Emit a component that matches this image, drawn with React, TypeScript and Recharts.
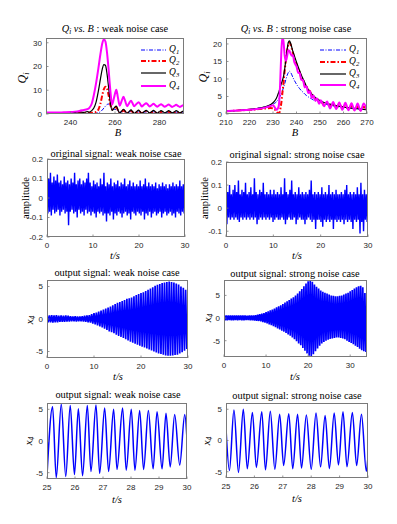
import React from 'react';
import { LineChart, Line, XAxis, YAxis } from 'recharts';

// Q_i vs B, weak noise: [B, Q]
const weakQ1: [number, number][] = [
  [229, 0.05], [237, 0.05], [242, 0.1], [246, 0.15], [249.5, 0.2], [251.5, 0.3], [252.5, 0.5], [253.5, 1.0],
  [254.3, 1.7], [255, 2.5], [255.7, 3.3], [256.4, 4.0], [257.1, 4.2], [257.8, 3.6], [258.7, 2.6], [259.6, 2.0],
  [260.6, 1.8], [261.3, 1.3], [262.1, 0.8], [263, 0.9], [263.8, 1.1], [264.6, 0.9], [265.4, 0.6], [266.3, 0.8],
  [267.2, 1.0], [268.6, 0.6], [270.6, 0.9], [272, 0.6], [274, 0.9], [275.5, 0.6], [277.3, 0.9], [278.9, 0.6],
  [280.7, 0.8], [282.3, 0.6], [284.1, 0.8], [285.7, 0.6], [287.5, 0.8], [289.1, 0.6], [291, 0.8],
];
const weakQ2: [number, number][] = [
  [229, 0.1], [233, 0.1], [237, 0.1], [240, 0.2], [242, 0.3], [244, 0.4], [246, 0.3], [247.5, 0.5], [248.5, 0.4],
  [249.5, 0.5], [250.5, 0.6], [251.5, 0.9], [252.5, 1.8], [253.5, 4.5], [254.3, 8], [255, 10.5], [255.7, 11.5],
  [256.4, 10.8], [257.1, 8], [257.8, 4.5], [258.7, 2.0], [259.6, 2.6], [260.6, 2.8], [261.3, 1.6], [262.1, 0.4],
  [263, 1.0], [263.8, 1.5], [264.6, 1.0], [265.4, 0.3], [266.3, 0.8], [267.2, 1.3], [267.9, 0.8], [268.6, 0.3],
  [269.6, 0.7], [270.6, 1.2], [271.3, 0.8], [272, 0.3], [273, 0.7], [274, 1.1], [274.8, 0.7], [275.5, 0.3],
  [276.4, 0.7], [277.3, 1.0], [278.1, 0.7], [278.9, 0.3], [279.8, 0.6], [280.7, 1.0], [281.5, 0.7], [282.3, 0.3],
  [283.2, 0.6], [284.1, 0.9], [284.9, 0.6], [285.7, 0.3], [286.6, 0.6], [287.5, 0.9], [288.3, 0.6], [289.1, 0.3],
  [290, 0.6], [291, 0.9],
];
const weakQ3: [number, number][] = [
  [229, 0.2], [233, 0.2], [237, 0.3], [240, 0.4], [242, 0.6], [244, 0.9], [246, 0.7], [247.5, 1.0], [248.5, 0.8],
  [249.5, 1.4], [250.5, 2.5], [251.5, 5], [252.5, 9.5], [253.5, 15], [254.3, 19], [255, 20.8], [255.7, 20.5],
  [256.4, 17], [257.1, 11.5], [257.8, 5.5], [258.7, 1.5], [259.6, 2.5], [260.6, 3.3], [261.3, 1.8], [262.1, 0.4],
  [263, 1.2], [263.8, 2.0], [264.6, 1.2], [265.4, 0.3], [266.3, 1.0], [267.2, 1.7], [267.9, 1.0], [268.6, 0.2],
  [269.6, 0.9], [270.6, 1.6], [271.3, 1.0], [272, 0.3], [273, 0.9], [274, 1.5], [274.8, 1.0], [275.5, 0.4],
  [276.4, 0.9], [277.3, 1.5], [278.1, 1.0], [278.9, 0.4], [279.8, 0.9], [280.7, 1.4], [281.5, 1.0], [282.3, 0.5],
  [283.2, 0.9], [284.1, 1.4], [284.9, 1.0], [285.7, 0.5], [286.6, 0.9], [287.5, 1.4], [288.3, 1.0], [289.1, 0.5],
  [290, 0.9], [291, 1.3],
];
const weakQ4: [number, number][] = [
  [229, 0.6], [233, 0.6], [237, 0.7], [240, 0.8], [242, 1.0], [244, 1.3], [246, 1.7], [247.5, 2.0], [248.5, 2.6],
  [249.5, 4.2], [250.5, 8], [251.5, 13], [252.5, 19], [253.5, 25.5], [254.3, 29.8], [255, 31.5], [255.7, 30.5],
  [256.4, 26], [257.1, 19], [257.8, 11], [258.7, 4.0], [259.6, 7.0], [260.6, 10.2], [261.3, 7.0], [262.1, 3.5],
  [263, 5.5], [263.8, 7.3], [264.6, 5.4], [265.4, 3.3], [266.3, 4.5], [267.2, 5.6], [267.9, 4.5], [268.6, 3.3],
  [269.6, 4.2], [270.6, 5.0], [271.3, 4.2], [272, 3.2], [273, 3.9], [274, 4.5], [274.8, 3.9], [275.5, 3.2],
  [276.4, 3.7], [277.3, 4.3], [278.1, 3.7], [278.9, 3.1], [279.8, 3.6], [280.7, 4.1], [281.5, 3.6], [282.3, 3.1],
  [283.2, 3.5], [284.1, 4.0], [284.9, 3.5], [285.7, 3.0], [286.6, 3.4], [287.5, 3.9], [288.3, 3.4], [289.1, 3.0],
  [290, 3.4], [291, 3.8],
];

// Q_i vs B, strong noise
const strongQ1: [number, number][] = [
  [210, 0.8], [215, 1.0], [220, 1.3], [224, 1.7], [227, 2.1], [229, 2.5], [230, 2.8], [231, 3.2], [231.5, 3.5],
  [232, 3.9], [232.5, 4.4], [233, 5.0], [233.5, 5.7], [234, 6.6], [234.5, 7.6], [235, 8.7], [235.5, 9.9], [236, 11],
  [236.5, 11.8], [237, 12.2], [237.5, 11.9], [238, 11.2], [238.5, 10.4], [239, 9.7], [239.5, 9.1], [240, 8.5],
  [240.7, 7.8], [241.4, 7.2], [242, 6.7], [242.8, 6.2], [243.5, 5.7], [244.2, 5.3], [245, 4.9], [245.7, 4.6],
  [246.5, 4.3], [247.2, 4.0], [248, 3.8], [248.8, 3.6], [249.6, 3.4], [250.4, 3.2], [251.7, 3.0], [253, 2.7],
  [254.3, 2.5], [255.6, 2.3], [256.9, 2.2], [258.2, 2.0], [259.5, 1.9], [260.8, 1.8], [262.1, 1.7], [263.4, 1.6],
  [264.7, 1.5], [266, 1.5], [267.3, 1.4], [268.6, 1.3], [270, 1.3],
];
const strongQ2: [number, number][] = [
  [210, 0.8], [215, 1.0], [220, 1.2], [224, 1.4], [227, 1.6], [229, 1.7], [230, 1.6], [231, 1.1], [231.5, 0.6],
  [232, 0.3], [232.5, 0.2], [233, 1.0], [233.5, 3.0], [234, 6], [234.5, 9.2], [235, 12.5], [235.5, 15.5], [236, 18],
  [236.5, 19.8], [237, 20.4], [237.5, 19.8], [238, 18.6], [238.5, 17.4], [239, 16.2], [239.5, 15.2], [240, 14.2],
  [240.7, 12.6], [241.4, 11.8], [242, 10.4], [242.8, 9.8], [243.5, 8.4], [244.2, 8.0], [245, 6.8], [245.7, 6.5],
  [246.5, 5.3], [247.2, 5.2], [248, 4.2], [248.8, 4.3], [249.6, 3.3], [250.4, 3.6], [251.7, 2.6], [253, 3.2],
  [254.3, 2.1], [255.6, 2.9], [256.9, 1.8], [258.2, 2.7], [259.5, 1.6], [260.8, 2.5], [262.1, 1.4], [263.4, 2.3],
  [264.7, 1.2], [266, 2.2], [267.3, 1.1], [268.6, 2.1], [270, 1.1],
];
const strongQ3: [number, number][] = [
  [210, 0.8], [215, 1.0], [220, 1.3], [224, 1.7], [227, 2.1], [229, 2.7], [230, 3.2], [231, 4.0], [231.5, 4.6],
  [232, 5.4], [232.5, 6.3], [233, 7.4], [233.5, 8.6], [234, 9.6], [234.5, 10.8], [235, 13], [235.5, 15.6], [236, 18.3],
  [236.5, 20.4], [237, 20.9], [237.5, 20.2], [238, 19], [238.5, 17.8], [239, 16.8], [239.5, 15.8], [240, 14.8],
  [240.7, 13.5], [241.4, 12.3], [242, 11.2], [242.8, 10], [243.5, 9.0], [244.2, 8.0], [245, 7.0], [245.7, 6.4],
  [246.5, 5.7], [247.2, 5.2], [248, 4.7], [248.8, 4.3], [249.6, 4.0], [250.4, 3.7], [251.7, 3.3], [253, 3.0],
  [254.3, 2.8], [255.6, 2.6], [256.9, 2.4], [258.2, 2.2], [259.5, 2.1], [260.8, 1.9], [262.1, 1.8], [263.4, 1.7],
  [264.7, 1.6], [266, 1.5], [267.3, 1.4], [268.6, 1.3], [270, 1.2],
];
const strongQ4: [number, number][] = [
  [210, 0.8], [215, 1.0], [220, 1.2], [224, 1.5], [227, 1.9], [229, 2.3], [230, 2.5], [231, 1.6], [231.5, 1.2],
  [232, 1.5], [232.5, 2.5], [233, 8], [233.5, 17], [234, 22.2], [234.5, 20.5], [235, 16.5], [235.5, 15.2], [236, 16.5],
  [236.5, 18.2], [237, 18], [237.5, 17.2], [238, 16.6], [238.5, 16.8], [239, 15], [239.5, 14.2], [240, 13.6],
  [240.7, 11.8], [241.4, 11.6], [242, 9.8], [242.8, 9.6], [243.5, 7.6], [244.2, 7.9], [245, 6.0], [245.7, 6.5],
  [246.5, 4.6], [247.2, 5.3], [248, 3.8], [248.8, 4.4], [249.6, 2.9], [250.4, 3.9], [251.7, 2.2], [253, 3.6],
  [254.3, 1.6], [255.6, 3.4], [256.9, 1.4], [258.2, 3.3], [259.5, 1.2], [260.8, 3.2], [262.1, 1.1], [263.4, 3.1],
  [264.7, 1.0], [266, 3.0], [267.3, 0.9], [268.6, 3.0], [270, 1.0],
];

// original signal: max / min of every 0.375 s bin
const NOISE_DT = 0.375;
const weakNoiseHi = [
  0.13, 0.10, 0.13, 0.08, 0.11, 0.09, 0.12, 0.08, 0.09, 0.07, 0.11, 0.08, 0.09, 0.07, 0.10, 0.08, 0.13, 0.07, 0.09, 0.10,
  0.07, 0.09, 0.08, 0.10, 0.13, 0.08, 0.06, 0.09, 0.07, 0.08, 0.06, 0.10, 0.07, 0.13, 0.06, 0.08, 0.07, 0.10, 0.06, 0.08,
  0.07, 0.09, 0.06, 0.08, 0.07, 0.10, 0.06, 0.07, 0.09, 0.06, 0.08, 0.06, 0.07, 0.06, 0.09, 0.06, 0.07, 0.10, 0.06, 0.08,
  0.06, 0.07, 0.06, 0.08, 0.05, 0.07, 0.06, 0.08, 0.06, 0.07, 0.05, 0.07, 0.06, 0.08, 0.06, 0.07, 0.06, 0.09, 0.06, 0.07,
];
const weakNoiseLo = [
  -0.08, -0.07, -0.09, -0.06, -0.08, -0.07, -0.06, -0.09, -0.07, -0.06, -0.08, -0.07, -0.14, -0.07, -0.06, -0.08, -0.07, -0.10, -0.06, -0.08,
  -0.07, -0.09, -0.06, -0.08, -0.07, -0.09, -0.07, -0.08, -0.10, -0.07, -0.08, -0.07, -0.09, -0.08, -0.12, -0.08, -0.09, -0.07, -0.11, -0.08,
  -0.09, -0.07, -0.08, -0.10, -0.08, -0.07, -0.09, -0.08, -0.11, -0.07, -0.08, -0.09, -0.07, -0.08, -0.09, -0.07, -0.11, -0.08, -0.09, -0.07,
  -0.10, -0.08, -0.07, -0.09, -0.08, -0.07, -0.10, -0.08, -0.07, -0.09, -0.08, -0.07, -0.09, -0.08, -0.10, -0.07, -0.08, -0.09, -0.07, -0.08,
];
const strongNoiseHi = [
  0.16, 0.07, 0.10, 0.06, 0.08, 0.10, 0.07, 0.12, 0.06, 0.08, 0.07, 0.11, 0.06, 0.07, 0.09, 0.06, 0.13, 0.07, 0.06, 0.08,
  0.07, 0.11, 0.06, 0.07, 0.06, 0.08, 0.06, 0.08, 0.06, 0.07, 0.06, 0.09, 0.06, 0.13, 0.07, 0.06, 0.08, 0.12, 0.06, 0.07,
  0.06, 0.09, 0.06, 0.07, 0.06, 0.07, 0.06, 0.08, 0.12, 0.06, 0.07, 0.06, 0.07, 0.06, 0.09, 0.06, 0.07, 0.06, 0.10, 0.06,
  0.07, 0.06, 0.08, 0.06, 0.06, 0.07, 0.06, 0.08, 0.10, 0.06, 0.07, 0.06, 0.07, 0.06, 0.09, 0.06, 0.11, 0.06, 0.08, 0.06,
];
const strongNoiseLo = [
  -0.07, -0.04, -0.05, -0.04, -0.05, -0.04, -0.05, -0.06, -0.04, -0.05, -0.04, -0.05, -0.04, -0.05, -0.04, -0.05, -0.04, -0.07, -0.05, -0.04,
  -0.05, -0.04, -0.05, -0.04, -0.05, -0.04, -0.06, -0.05, -0.04, -0.05, -0.05, -0.04, -0.05, -0.07, -0.05, -0.04, -0.05, -0.05, -0.04, -0.07,
  -0.05, -0.04, -0.05, -0.05, -0.07, -0.05, -0.04, -0.05, -0.06, -0.05, -0.09, -0.05, -0.05, -0.06, -0.08, -0.05, -0.06, -0.05, -0.06, -0.05,
  -0.09, -0.05, -0.06, -0.05, -0.06, -0.05, -0.07, -0.05, -0.06, -0.05, -0.06, -0.09, -0.05, -0.06, -0.05, -0.11, -0.06, -0.10, -0.05, -0.06,
];

// output signal: upper / lower swing of every 0.5 s
const OUT_DT = 0.5;
const weakOutHi = [
  0.6, 0.55, 0.6, 0.55, 0.6, 0.5, 0.55, 0.5, 0.55, 0.5,
  0.45, 0.4, 0.45, 0.4, 0.4, 0.45, 0.5, 0.55, 0.6, 0.75,
  0.9, 1.0, 1.15, 1.3, 1.45, 1.6, 1.75, 1.9, 2.1, 2.3,
  2.5, 2.6, 2.75, 2.9, 3.1, 3.2, 3.3, 3.5, 3.7, 3.85,
  4.0, 4.1, 4.3, 4.5, 4.7, 4.9, 5.1, 5.25, 5.4, 5.55,
  5.6, 5.7, 5.75, 5.7, 5.6, 5.45, 5.3, 5.0, 4.8, 4.5,
];
const weakOutLo = [
  -0.5, -0.5, -0.55, -0.5, -0.5, -0.45, -0.45, -0.45, -0.4, -0.4,
  -0.35, -0.35, -0.4, -0.35, -0.35, -0.4, -0.45, -0.5, -0.55, -0.7,
  -0.85, -1.0, -1.15, -1.3, -1.5, -1.7, -1.9, -2.05, -2.2, -2.4,
  -2.6, -2.75, -2.9, -3.1, -3.3, -3.5, -3.65, -3.8, -3.95, -4.1,
  -4.25, -4.4, -4.55, -4.7, -4.85, -5.0, -5.15, -5.3, -5.4, -5.5,
  -5.6, -5.65, -5.65, -5.6, -5.55, -5.5, -5.3, -5.1, -4.9, -4.6,
];
const strongOutHi = [
  0.6, 0.55, 0.6, 0.55, 0.6, 0.55, 0.6, 0.55, 0.6, 0.55,
  0.55, 0.5, 0.55, 0.6, 0.6, 0.65, 0.75, 0.85, 1.0, 1.1,
  1.3, 1.5, 1.7, 1.9, 2.1, 2.4, 2.6, 2.8, 3.1, 3.4,
  3.7, 4.0, 4.3, 4.6, 5.0, 5.4, 5.9, 6.4, 7.0, 7.6,
  8.1, 8.3, 8.0, 7.4, 6.9, 6.5, 6.1, 5.8, 5.6, 5.4,
  5.2, 5.0, 4.9, 4.8, 4.8, 4.9, 5.0, 5.2, 5.4, 5.6,
  5.9, 6.2, 6.5, 6.8, 7.0, 7.1, 6.8, 5.5,
];
const strongOutLo = [
  -0.5, -0.5, -0.45, -0.5, -0.5, -0.45, -0.5, -0.45, -0.5, -0.5,
  -0.45, -0.45, -0.5, -0.5, -0.55, -0.6, -0.65, -0.75, -0.9, -1.0,
  -1.2, -1.4, -1.6, -1.8, -2.0, -2.3, -2.5, -2.8, -3.0, -3.3,
  -3.6, -3.9, -4.3, -4.7, -5.1, -5.6, -6.0, -6.6, -7.2, -7.8,
  -8.3, -8.5, -8.0, -7.3, -6.7, -6.1, -5.6, -5.3, -5.0, -4.8,
  -4.6, -4.5, -4.4, -4.3, -4.3, -4.4, -4.5, -4.7, -5.0, -5.3,
  -5.5, -5.8, -6.1, -6.4, -6.8, -7.1, -7.3, -7.5,
];

// output signal 25-30 s: turning points [t, x4]
const weakZoom: [number, number][] = [
  [25, -5.5], [25.2, 5.4], [25.33, -5.8], [25.51, 5.8], [25.67, -5.6], [25.83, 5.6], [25.98, -5.3], [26.12, 5.1],
  [26.27, -5.5], [26.44, 5.6], [26.57, -4.8], [26.75, 5.7], [26.88, -5.1], [27.06, 5.2], [27.2, -4.8], [27.38, 5.0],
  [27.5, -4.5], [27.7, 5.2], [27.83, -4.6], [28.01, 5.0], [28.14, -4.6], [28.31, 4.8], [28.45, -4.5], [28.62, 4.8],
  [28.79, -4.4], [28.93, 4.6], [29.11, -4.4], [29.25, 4.4], [29.4, -4.1], [29.56, 4.2], [29.74, -3.8], [29.92, 4.2],
  [30, 0.3],
];
const strongZoom: [number, number][] = [
  [25, 2.0], [25.12, -4.8], [25.28, 4.9], [25.44, -5.1], [25.61, 5.0], [25.75, -4.5], [25.93, 4.5], [26.07, -4.3],
  [26.26, 4.6], [26.39, -4.7], [26.56, 4.7], [26.72, -4.6], [26.89, 4.2], [27.03, -4.0], [27.21, 4.3], [27.35, -4.5],
  [27.52, 4.2], [27.66, -4.4], [27.83, 4.1], [28.0, -4.6], [28.17, 4.4], [28.33, -4.2], [28.49, 4.0], [28.64, -4.5],
  [28.81, 4.4], [28.96, -3.9], [29.12, 4.6], [29.26, -4.2], [29.45, 4.5], [29.6, -4.0], [29.77, 4.2], [29.94, -4.9],
  [30, -2.5],
];

const toPts = (arr: [number, number][]) => arr.map(([x, y]) => ({ x, y }));
// alternate the upper and lower values of each bin into one trace
const zigzag = (hi: number[], lo: number[], dt: number) =>
  hi.flatMap((h, i) => [{ x: i * dt, y: h }, { x: (i + 0.5) * dt, y: lo[i] }]);

const SERIF = '"Liberation Serif", "Times New Roman", serif';
const BLUE = '#0000ff';
const AXIS_GRAY = '#7a7a7a';
const TICK = { fontFamily: '"Liberation Sans", Arial, sans-serif', fontSize: 8, fill: '#262626' };

type Box = { left: number; top: number; width: number; height: number };

const boxes: Record<string, Box> = {
  p1: { left: 46, top: 38, width: 138, height: 76 },
  p2: { left: 226, top: 38, width: 141, height: 76 },
  p3: { left: 47, top: 159, width: 138, height: 78 },
  p4: { left: 226, top: 162, width: 142, height: 75 },
  p5: { left: 47, top: 280, width: 141, height: 78 },
  p6: { left: 224, top: 280, width: 143, height: 77 },
  p7: { left: 47, top: 403, width: 140, height: 76 },
  p8: { left: 226, top: 403, width: 142, height: 75 },
};

const qStyles = [
  { color: BLUE, width: 1, dash: '4 1.5 1 1.5' },
  { color: '#ff0000', width: 2, dash: '5 2 1.5 2' },
  { color: '#000000', width: 1.2, dash: undefined },
  { color: '#ff00ff', width: 2, dash: undefined },
];

// inward ticks, like the MATLAB axes
const Panel = ({ box, xDomain, xTicks, yDomain, yTicks, children }: {
  box: Box; xDomain: [number, number]; xTicks: number[]; yDomain: [number, number]; yTicks: number[]; children: React.ReactNode;
}) => {
  const yw = 30, top = 4, xh = 18, right = 14;
  return (
    <>
      <div style={{ position: 'absolute', left: box.left - yw, top: box.top - top }}>
        <LineChart width={box.width + yw + right} height={box.height + top + xh} margin={{ top, right, bottom: 0, left: 0 }}>
          <XAxis type="number" dataKey="x" domain={xDomain} ticks={xTicks} allowDataOverflow height={xh}
            axisLine={false} tickLine={{ stroke: AXIS_GRAY, strokeWidth: 0.8 }} tickSize={-2.5} tickMargin={7.5} tick={TICK} interval={0} />
          <YAxis type="number" domain={yDomain} ticks={yTicks} allowDataOverflow width={yw}
            axisLine={false} tickLine={{ stroke: AXIS_GRAY, strokeWidth: 0.8 }} tickSize={-2.5} tickMargin={6.5} tick={TICK} interval={0} />
          {children}
        </LineChart>
      </div>
      <div style={{
        position: 'absolute', left: box.left, top: box.top, width: box.width, height: box.height,
        border: `1px solid ${AXIS_GRAY}`, boxSizing: 'border-box', pointerEvents: 'none'
      }} />
    </>
  );
};

const Txt = ({ x, y, size = 10.3, rotate = false, italic = false, children }: {
  x: number; y: number; size?: number; rotate?: boolean; italic?: boolean; children: React.ReactNode;
}) => (
  <div style={{
    position: 'absolute', left: x, top: y, whiteSpace: 'nowrap', lineHeight: 1,
    transform: `translate(-50%, -50%)${rotate ? ' rotate(-90deg)' : ''}`,
    fontFamily: SERIF, fontSize: size, fontStyle: italic ? 'italic' : 'normal', color: '#000'
  }}>
    {children}
  </div>
);

const Sub = ({ children }: { children: React.ReactNode }) => (
  <span style={{ fontSize: '0.7em', position: 'relative', top: '0.3em' }}>{children}</span>
);

const Legend = ({ x, rows, lineW }: { x: number; rows: number[]; lineW: number }) => (
  <>
    {qStyles.map((s, i) => (
      <div key={i} style={{ position: 'absolute', left: x, top: rows[i] - 6, height: 12, display: 'flex', alignItems: 'center' }}>
        <svg width={lineW} height={6}>
          <line x1={0} y1={3} x2={lineW} y2={3} stroke={s.color} strokeWidth={s.width} strokeDasharray={s.dash} />
        </svg>
        <span style={{ marginLeft: 3, fontFamily: SERIF, fontStyle: 'italic', fontSize: 9.5, lineHeight: 1 }}>
          Q<Sub>{i + 1}</Sub>
        </span>
      </div>
    ))}
  </>
);

const qLines = (series: [number, number][][]) =>
  series.map((s, i) => (
    <Line key={i} data={toPts(s)} dataKey="y" type="monotone" dot={false} isAnimationActive={false}
      stroke={qStyles[i].color} strokeWidth={qStyles[i].width} strokeDasharray={qStyles[i].dash} />
  ));

const sigLine = (pts: { x: number; y: number }[], width: number, type: 'linear' | 'monotone') => (
  <Line data={pts} dataKey="y" type={type} dot={false} isAnimationActive={false} stroke={BLUE} strokeWidth={width} />
);

export default function App() {
  return (
    <div style={{ position: 'absolute', left: 0, top: 0, width: 397, height: 524, background: '#fff', overflow: 'hidden' }}>
      <Panel box={boxes.p1} xDomain={[229, 291]} xTicks={[240, 260, 280]} yDomain={[0, 32]} yTicks={[0, 10, 20, 30]}>
        {qLines([weakQ1, weakQ2, weakQ3, weakQ4])}
      </Panel>
      <Panel box={boxes.p2} xDomain={[210, 270]} xTicks={[210, 220, 230, 240, 250, 260, 270]} yDomain={[0, 21.7]} yTicks={[0, 5, 10, 15, 20]}>
        {qLines([strongQ1, strongQ2, strongQ3, strongQ4])}
      </Panel>
      <Panel box={boxes.p3} xDomain={[0, 30]} xTicks={[0, 10, 20, 30]} yDomain={[-0.2, 0.2]} yTicks={[-0.2, -0.1, 0, 0.1, 0.2]}>
        {sigLine(zigzag(weakNoiseHi, weakNoiseLo, NOISE_DT), 1.4, 'linear')}
      </Panel>
      <Panel box={boxes.p4} xDomain={[0, 30]} xTicks={[0, 10, 20, 30]} yDomain={[-0.125, 0.2]} yTicks={[-0.1, 0, 0.1, 0.2]}>
        {sigLine(zigzag(strongNoiseHi, strongNoiseLo, NOISE_DT), 1.4, 'linear')}
      </Panel>
      <Panel box={boxes.p5} xDomain={[0, 30]} xTicks={[0, 10, 20, 30]} yDomain={[-6, 6]} yTicks={[-5, 0, 5]}>
        {sigLine(zigzag(weakOutHi, weakOutLo, OUT_DT), 1.7, 'linear')}
      </Panel>
      <Panel box={boxes.p6} xDomain={[0, 34]} xTicks={[0, 10, 20, 30]} yDomain={[-8.6, 8.4]} yTicks={[-5, 0, 5]}>
        {sigLine(zigzag(strongOutHi, strongOutLo, OUT_DT), 1.7, 'linear')}
      </Panel>
      <Panel box={boxes.p7} xDomain={[25, 30]} xTicks={[25, 26, 27, 28, 29, 30]} yDomain={[-6, 6]} yTicks={[-5, 0, 5]}>
        {sigLine(toPts(weakZoom), 1.5, 'monotone')}
      </Panel>
      <Panel box={boxes.p8} xDomain={[25, 30]} xTicks={[25, 26, 27, 28, 29, 30]} yDomain={[-6, 6]} yTicks={[-5, 0, 5]}>
        {sigLine(toPts(strongZoom), 1.5, 'monotone')}
      </Panel>

      <Legend x={141} rows={[50, 61, 72.5, 85.5]} lineW={25} />
      <Legend x={320} rows={[50, 62, 73.5, 85]} lineW={26} />

      {/* titles */}
      <Txt x={115} y={29}><i>Q</i><Sub><i>i</i></Sub> <i>vs. B</i> : weak noise case</Txt>
      <Txt x={296} y={29}><i>Q</i><Sub><i>i</i></Sub> <i>vs. B</i> : strong noise case</Txt>
      <Txt x={116} y={154}>original signal: weak noise csae</Txt>
      <Txt x={297} y={155}>original signal: strong noise csae</Txt>
      <Txt x={117} y={273}>output signal: weak noise case</Txt>
      <Txt x={295} y={274}>output signal: strong noise case</Txt>
      <Txt x={118} y={395}>output signal: weak noise case</Txt>
      <Txt x={297} y={396}>output signal: strong noise case</Txt>

      {/* y labels */}
      <Txt x={22} y={78} size={12} rotate italic>Q<Sub>i</Sub></Txt>
      <Txt x={203} y={77} size={12} rotate italic>Q<Sub>i</Sub></Txt>
      <Txt x={26} y={198} size={10.5} rotate>amplitude</Txt>
      <Txt x={205} y={198} size={10.5} rotate>amplitude</Txt>
      <Txt x={29} y={320} size={11} rotate italic>x<Sub>4</Sub></Txt>
      <Txt x={207} y={318} size={11} rotate italic>x<Sub>4</Sub></Txt>
      <Txt x={28} y={441} size={11} rotate italic>x<Sub>4</Sub></Txt>
      <Txt x={206} y={441} size={11} rotate italic>x<Sub>4</Sub></Txt>

      {/* x labels */}
      <Txt x={118} y={133} size={10.5} italic>B</Txt>
      <Txt x={295} y={133} size={10.5} italic>B</Txt>
      <Txt x={115} y={256} size={10.5} italic>t/s</Txt>
      <Txt x={297} y={256} size={10.5} italic>t/s</Txt>
      <Txt x={118} y={377} size={10.5} italic>t/s</Txt>
      <Txt x={295} y={377} size={10.5} italic>t/s</Txt>
      <Txt x={117} y={500} size={10.5} italic>t/s</Txt>
      <Txt x={297} y={499} size={10.5} italic>t/s</Txt>
    </div>
  );
}
